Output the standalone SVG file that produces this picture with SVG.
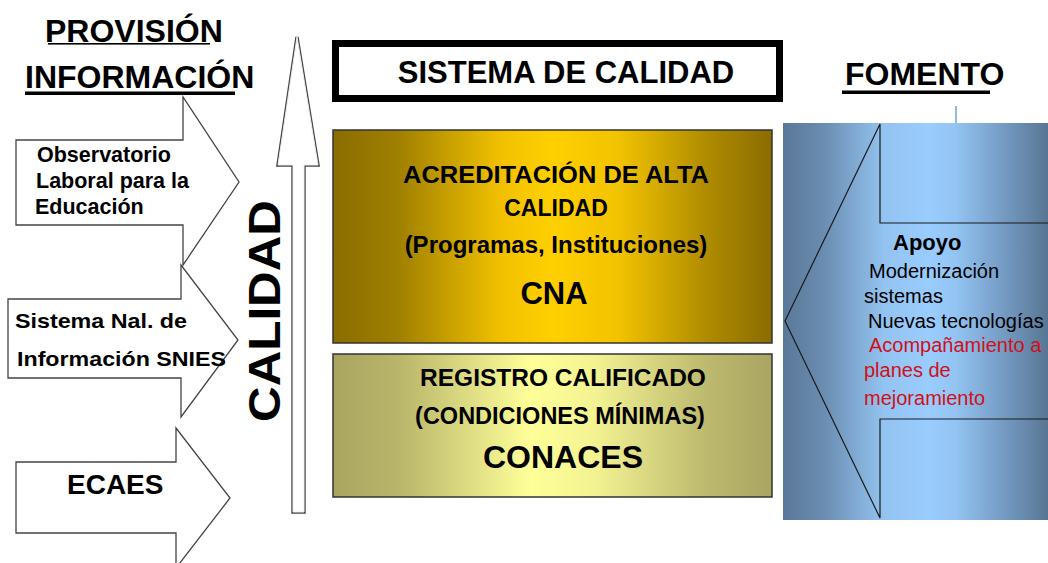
<svg xmlns="http://www.w3.org/2000/svg" width="1048" height="563" viewBox="0 0 1048 563">
<defs>
<linearGradient id="gold" x1="0" y1="0" x2="1" y2="0">
<stop offset="0" stop-color="#8a6c00"/>
<stop offset="0.15" stop-color="#a08000"/>
<stop offset="0.38" stop-color="#f0c000"/>
<stop offset="0.5" stop-color="#ffd000"/>
<stop offset="0.65" stop-color="#f2c300"/>
<stop offset="0.85" stop-color="#b08c00"/>
<stop offset="1" stop-color="#8a6c00"/>
</linearGradient>
<linearGradient id="olive" x1="0" y1="0" x2="1" y2="0">
<stop offset="0" stop-color="#a9a560"/>
<stop offset="0.15" stop-color="#b9b56a"/>
<stop offset="0.45" stop-color="#ffff99"/>
<stop offset="0.6" stop-color="#f2f292"/>
<stop offset="0.85" stop-color="#bdb96e"/>
<stop offset="1" stop-color="#a9a562"/>
</linearGradient>
<linearGradient id="blue" x1="0" y1="0" x2="1" y2="0">
<stop offset="0" stop-color="#5a7898"/>
<stop offset="0.15" stop-color="#6a8cb0"/>
<stop offset="0.38" stop-color="#93c3f0"/>
<stop offset="0.55" stop-color="#99ccff"/>
<stop offset="0.65" stop-color="#93c4f2"/>
<stop offset="0.8" stop-color="#7aa2cc"/>
<stop offset="1" stop-color="#587694"/>
</linearGradient>
</defs>
<style>
text{font-family:"Liberation Sans",Arial,sans-serif;fill:#000}
.b{font-weight:bold}
.la{fill:#fff;stroke:#444;stroke-width:1.3;stroke-linejoin:miter}
.box{stroke:#333;stroke-width:1.5}
.c{text-anchor:middle}
.r{fill:#d01018}
</style>
<rect width="1048" height="563" fill="#fff"/>

<g id="title-provision">
<text x="45" y="42" class="b" font-size="32">PROVISIÓN</text>
<rect x="48" y="43" width="162" height="1.6" fill="#000"/>
<text x="25" y="88" class="b" font-size="32">INFORMACIÓN</text>
<rect x="25" y="91.5" width="210" height="3.5" fill="#000"/>
</g>

<g id="arrow-observatorio">
<path class="la" d="M16,140 H183 V97 L239,182 L183,265 V225 H16 Z"/>
<text x="37" y="162" class="b" font-size="21.5">Observatorio</text>
<text x="36" y="188" class="b" font-size="21.5">Laboral para la</text>
<text x="35" y="214" class="b" font-size="21.5">Educación</text>
</g>

<g id="arrow-snies">
<path class="la" d="M8,299 H181 V265 L238,340 L181,417 V378 H8 Z"/>
<text x="15" y="328" class="b" font-size="21" textLength="172" lengthAdjust="spacingAndGlyphs">Sistema Nal. de</text>
<text x="17" y="366" class="b" font-size="21" textLength="209" lengthAdjust="spacingAndGlyphs">Información SNIES</text>
</g>

<g id="arrow-ecaes">
<path class="la" d="M16,462 H176 V428 L230,498 L176,568 V533 H16 Z"/>
<text x="67" y="494" class="b" font-size="28">ECAES</text>
</g>

<g id="arrow-calidad">
<path d="M297,37 L318,165 H304 V512 H293 V165 H278 Z" fill="#fff" stroke="#444" stroke-width="3.4" stroke-linejoin="miter"/>
<path d="M297,37 L318,165 H304 V512 H293 V165 H278 Z" fill="#fff" stroke="#eee" stroke-width="1" stroke-linejoin="miter"/>
<text transform="translate(280,311) rotate(-90)" class="b c" font-size="45" textLength="222" lengthAdjust="spacingAndGlyphs">CALIDAD</text>
</g>

<g id="sistema-calidad">
<rect x="335.5" y="43.5" width="444" height="55" fill="#fff" stroke="#000" stroke-width="7"/>
<text x="566" y="83" class="b c" font-size="31">SISTEMA DE CALIDAD</text>
</g>

<g id="cna">
<rect class="box" x="333" y="130" width="439" height="213" fill="url(#gold)"/>
<text x="556" y="183" class="b c" font-size="23" textLength="306" lengthAdjust="spacingAndGlyphs">ACREDITACIÓN DE ALTA</text>
<text x="556" y="216" class="b c" font-size="23">CALIDAD</text>
<text x="556" y="253" class="b c" font-size="24">(Programas, Instituciones)</text>
<text x="554" y="304" class="b c" font-size="31">CNA</text>
</g>

<g id="conaces">
<rect class="box" x="333" y="354" width="439" height="143" fill="url(#olive)"/>
<text x="563" y="386" class="b c" font-size="24.5">REGISTRO CALIFICADO</text>
<text x="560" y="424" class="b c" font-size="23.5">(CONDICIONES MÍNIMAS)</text>
<text x="563" y="468" class="b c" font-size="32">CONACES</text>
</g>

<g id="title-fomento">
<text x="845" y="85" class="b" font-size="32">FOMENTO</text>
<rect x="842" y="90.5" width="148" height="3.5" fill="#000"/>
</g>

<g id="fomento">
<rect x="783" y="123" width="265" height="397" fill="url(#blue)"/>
<path d="M1048,223 H880 V124 L785,321 L880,518 V419 H1048" fill="none" stroke="#1a1a1a" stroke-width="1.2"/>
<text x="893" y="250" class="b" font-size="22">Apoyo</text>
<text x="869" y="278" font-size="20">Modernización</text>
<text x="864" y="303" font-size="20">sistemas</text>
<text x="868" y="328" font-size="20">Nuevas tecnologías</text>
<text x="869" y="352" font-size="20" class="r">Acompañamiento a</text>
<text x="864" y="377" font-size="20" class="r">planes de</text>
<text x="864" y="405" font-size="20" class="r">mejoramiento</text>
</g>

<g id="connectors">
<line x1="956" y1="106" x2="956" y2="123" stroke="#8fbbe8" stroke-width="2"/>
</g>
</svg>
